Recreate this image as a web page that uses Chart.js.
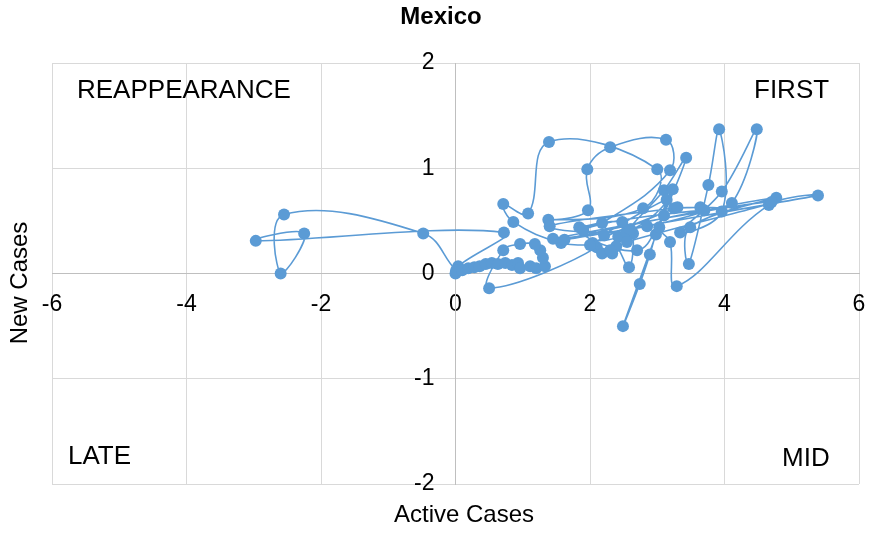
<!DOCTYPE html>
<html>
<head>
<meta charset="utf-8">
<script src="https://cdn.jsdelivr.net/npm/chart.js@4.4.1/dist/chart.umd.min.js"></script>
<style>
  html, body { margin: 0; padding: 0; background: #fff; }
  #wrap { width: 869px; height: 533px; position: relative; }
</style>
</head>
<body>
<div id="wrap"><canvas id="chart"></canvas></div>
<script>
const TITLE = "Mexico";
const X_TITLE = "Active Cases";
const Y_TITLE = "New Cases";

const activeCases = [
  0.00, 0.04, 0.72, -2.97, -2.25, -2.60, -2.55, -0.48, 0.01, 0.10,
  0.19, 0.28, 0.36, 0.45, 0.54, 0.63, 0.74, 0.84, 0.93, 0.96,
  1.11, 1.20, 1.33, 1.30, 1.26, 1.18, 0.96, 0.71, 0.50, 2.10,
  1.57, 0.86, 0.71, 1.08, 1.39, 3.00, 2.79, 1.38, 1.97, 1.96,
  2.30, 3.13, 3.19, 2.18, 1.84, 2.48, 2.42, 2.04, 2.18, 2.33,
  2.39, 2.58, 2.64, 2.54, 3.10, 3.43, 2.98, 2.89, 2.74, 2.49,
  3.23, 3.03, 3.19, 3.29, 4.66, 5.39, 1.62, 4.77, 3.49, 3.47,
  3.76, 3.92, 3.96, 3.34, 3.96, 4.48, 4.11, 3.64, 3.25, 1.40,
  2.60, 3.14, 2.21, 3.30, 2.00, 2.30, 2.55, 4.70, 1.45, 2.85,
  3.70, 1.90, 2.70, 3.10
];

const newCases = [
  0.00, 0.07, 0.39, 0.31, 0.38, 0.00, 0.56, 0.38, 0.03, 0.03,
  0.05, 0.06, 0.07, 0.09, 0.10, 0.09, 0.10, 0.08, 0.10, 0.05,
  0.07, 0.05, 0.07, 0.15, 0.22, 0.28, 0.28, 0.22, -0.14, 0.25,
  0.29, 0.49, 0.66, 0.57, 1.25, 0.99, 0.62, 0.51, 0.60, 0.99,
  1.20, 1.27, 0.98, 0.48, 0.44, 0.49, 0.35, 0.29, 0.19, 0.19,
  0.26, 0.06, 0.38, 0.39, 0.79, 1.10, 0.37, 0.18, -0.10, -0.50,
  0.80, 0.44, 0.30, -0.12, 0.65, 0.74, 0.32, 0.72, 0.44, 0.09,
  0.84, 1.37, 0.59, 0.39, 0.78, 1.37, 0.67, 0.63, 0.62, 0.45,
  0.42, 0.70, 0.36, 0.63, 0.27, 0.22, 0.30, 0.68, 0.33, 0.45,
  0.60, 0.41, 0.22, 0.55
];

const xTicks = [-6, -4, -2, 0, 2, 4, 6];
const yTicks = [-2, -1, 0, 1, 2];

const quadrantLabels = [
  { text: "REAPPEARANCE", x: 77, y: 91 },
  { text: "FIRST", x: 754, y: 91 },
  { text: "LATE", x: 68, y: 457 },
  { text: "MID", x: 782, y: 459 }
];

const BLUE = "#5B9BD5";
const FONT = "'Liberation Sans', Arial, sans-serif";

const textPlugin = {
  id: "texts",
  afterDraw(chart) {
    const ctx = chart.ctx;
    const { x: xScale, y: yScale } = chart.scales;
    ctx.save();
    ctx.fillStyle = "#000";
    ctx.textBaseline = "middle";

    // y tick labels sit left of the centred axis, with a gap
    ctx.font = `23px ${FONT}`;
    ctx.textAlign = "right";
    const axisX = xScale.getPixelForValue(0) - 21;
    yTicks.forEach(value => ctx.fillText(String(value), axisX, yScale.getPixelForValue(value)));

    ctx.font = `bold 24px ${FONT}`;
    ctx.textAlign = "center";
    ctx.fillText(TITLE, 441, 17);

    ctx.font = `24px ${FONT}`;
    ctx.fillText(X_TITLE, 464, 515);

    ctx.translate(20, 283);
    ctx.rotate(-Math.PI / 2);
    ctx.fillText(Y_TITLE, 0, 0);
    ctx.setTransform(1, 0, 0, 1, 0, 0);

    ctx.font = `26px ${FONT}`;
    ctx.textAlign = "left";
    quadrantLabels.forEach(label => ctx.fillText(label.text, label.x, label.y));
    ctx.restore();
  }
};

function noSidePadding(axis) {
  axis.paddingLeft = 0;
  axis.paddingRight = 0;
}

new Chart(document.getElementById("chart"), {
  type: "scatter",
  data: {
    datasets: [{
      data: activeCases.map((x, i) => ({ x, y: newCases[i] })),
      showLine: true,
      tension: 0.4,
      borderColor: BLUE,
      backgroundColor: BLUE,
      borderWidth: 1.6,
      pointRadius: 6,
      pointHoverRadius: 6,
      pointBorderWidth: 0
    }]
  },
  options: {
    responsive: true,
    maintainAspectRatio: false,
    animation: false,
    layout: { padding: { left: 52, right: 10, top: 63, bottom: 49 } },
    plugins: { legend: { display: false }, tooltip: { enabled: false }, title: { display: false } },
    scales: {
      x: {
        type: "linear",
        position: { y: 0 },
        min: xTicks[0],
        max: xTicks[xTicks.length - 1],
        afterBuildTicks: axis => { axis.ticks = xTicks.map(value => ({ value })); },
        afterFit: noSidePadding,
        grid: { color: "#d9d9d9", drawTicks: false },
        border: { color: "#bfbfbf" },
        ticks: { color: "#000", padding: 17, font: { family: FONT, size: 23 } }
      },
      y: {
        type: "linear",
        position: { x: 0 },
        min: yTicks[0],
        max: yTicks[yTicks.length - 1],
        afterBuildTicks: axis => { axis.ticks = yTicks.map(value => ({ value })); },
        afterFit: noSidePadding,
        grid: { color: "#d9d9d9", drawTicks: false },
        border: { color: "#bfbfbf" },
        ticks: { display: false, font: { family: FONT, size: 23 } }
      }
    }
  },
  plugins: [textPlugin]
});
</script>
</body>
</html>
